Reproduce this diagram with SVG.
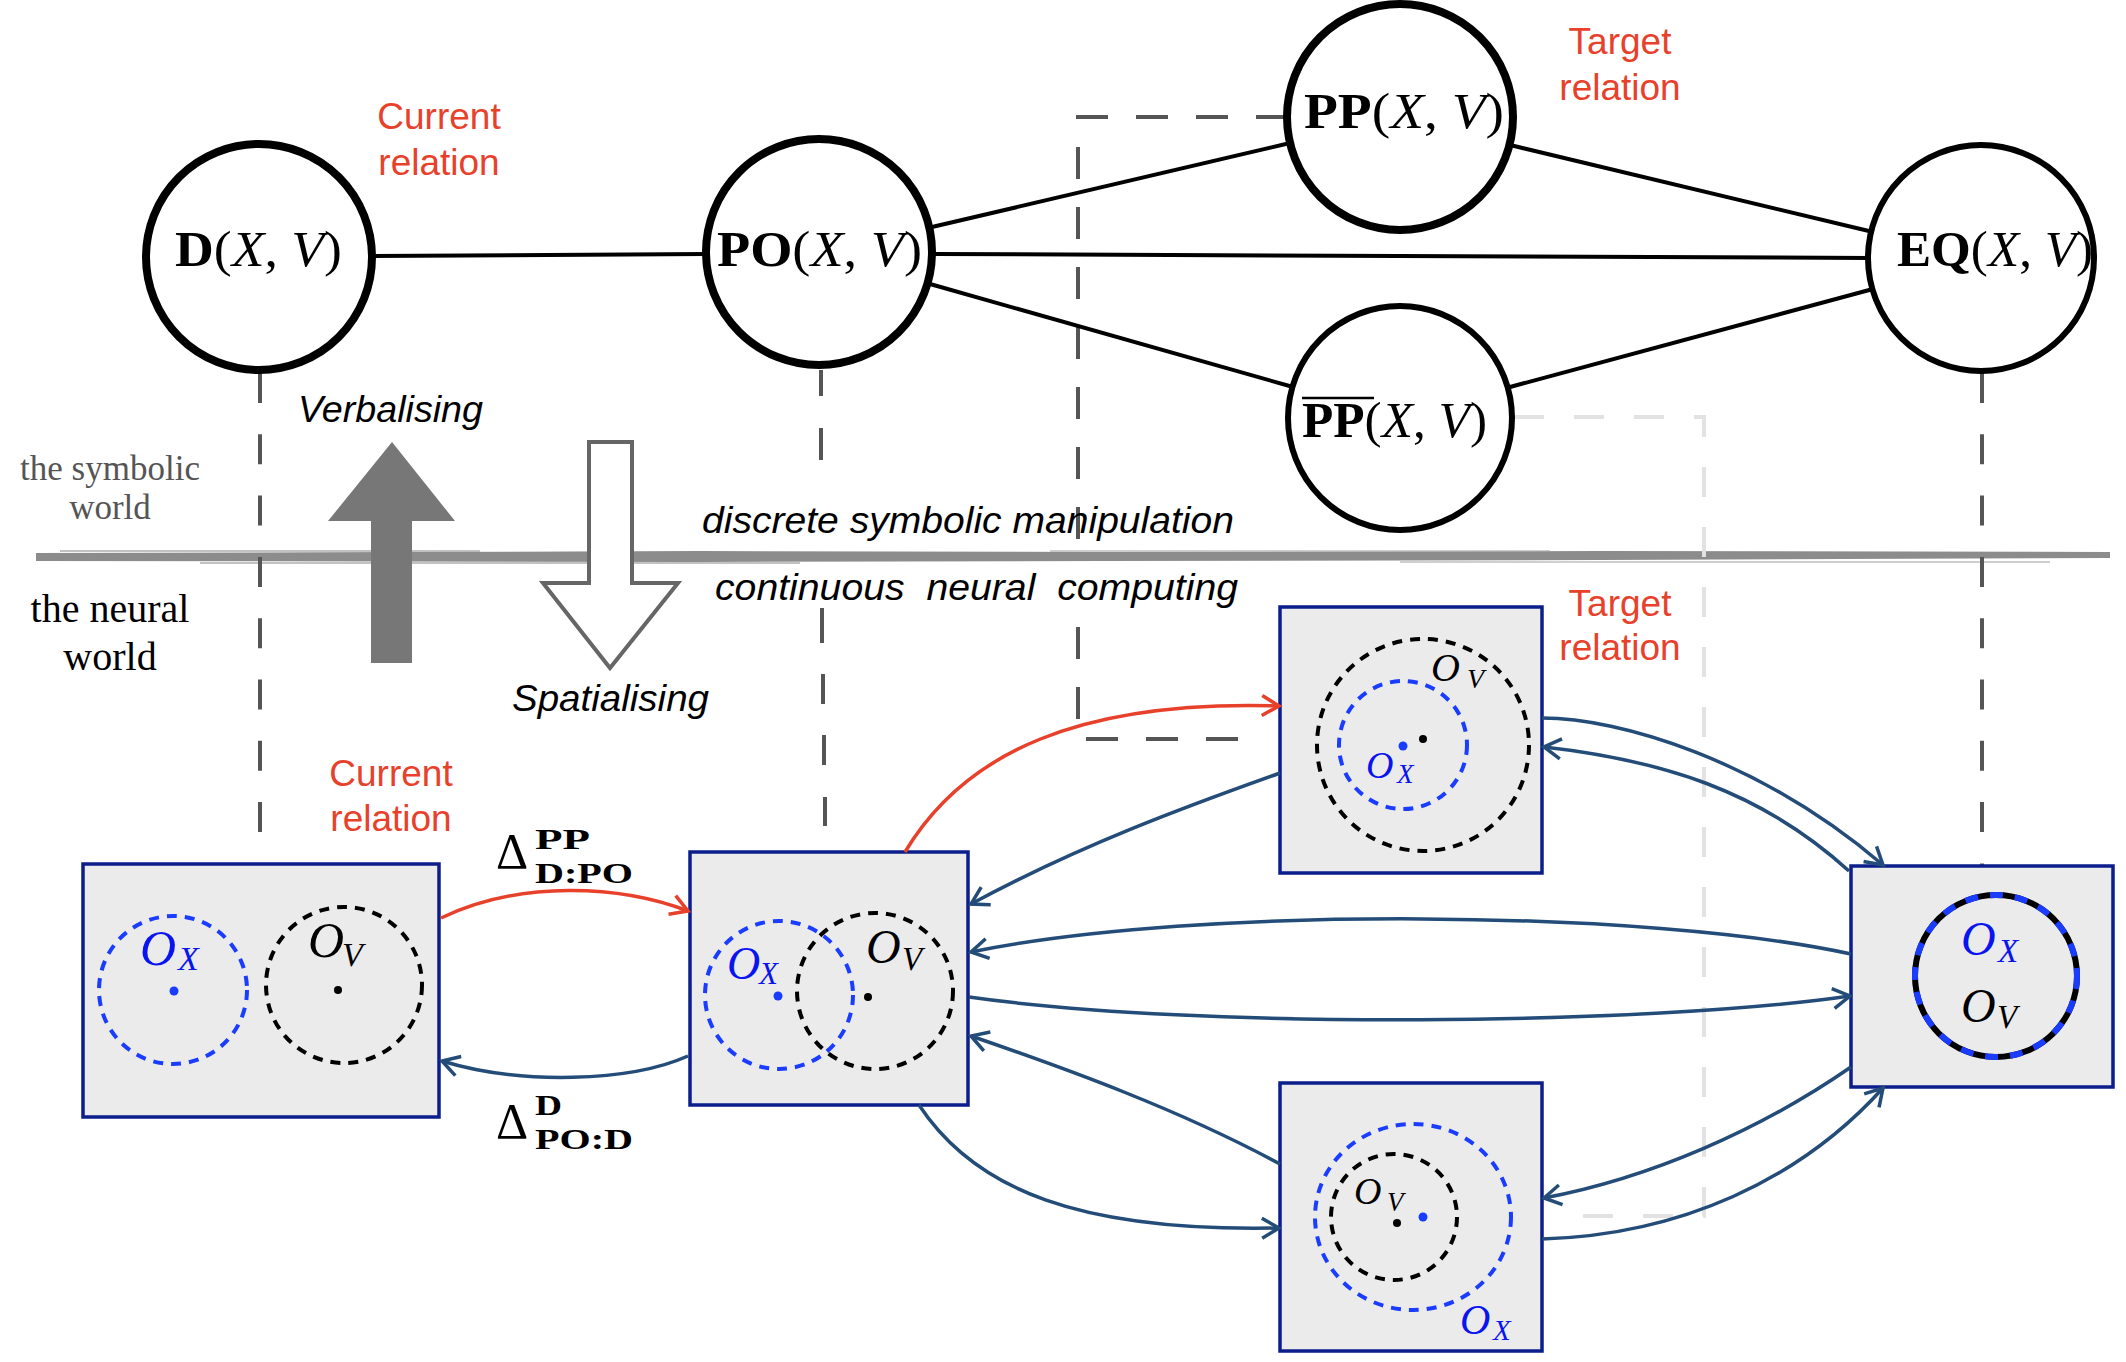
<svg xmlns="http://www.w3.org/2000/svg" width="2126" height="1362" viewBox="0 0 2126 1362">
<style>
.lbl{font-family:"Liberation Serif","Times New Roman",serif;font-size:50px;fill:#000}
.red{font-family:"Liberation Sans",Arial,sans-serif;font-size:37px;fill:#e8412b;text-anchor:middle}
.it{font-family:"Liberation Sans",Arial,sans-serif;font-style:italic;font-size:36px;fill:#000}
.world{font-family:"Liberation Serif","Times New Roman",serif;text-anchor:middle}
.mO{font-family:"Liberation Serif","Times New Roman",serif;font-style:italic}
.bl{fill:#0a14f0}
.blk{fill:#000}
.node{fill:#fff;stroke:#000}
.edge{stroke:#000;stroke-width:4;fill:none}
.guide{fill:none;stroke:#555;stroke-width:4;stroke-dasharray:30 31.3}
.box{fill:#ebebeb;stroke:#0b1e8c;stroke-width:3.5}
.cb{fill:none;stroke:#1a3cff;stroke-width:4;stroke-dasharray:10 8}
.ck{fill:none;stroke:#000;stroke-width:4;stroke-dasharray:10 8}
.conn{fill:none;stroke:#234c78;stroke-width:3.5}
.connr{fill:none;stroke:#e8412b;stroke-width:3.5}
.delta{font-family:"Liberation Serif","Times New Roman",serif;fill:#000}
</style>
<defs>
<marker id="ab" markerUnits="userSpaceOnUse" markerWidth="22" markerHeight="24" viewBox="0 0 22 24" refX="19" refY="12" orient="auto">
<path d="M2,2 L19,12 L2,22" fill="none" stroke="#234c78" stroke-width="3.5"/>
</marker>
<marker id="ar" markerUnits="userSpaceOnUse" markerWidth="22" markerHeight="24" viewBox="0 0 22 24" refX="19" refY="12" orient="auto">
<path d="M2,2 L19,12 L2,22" fill="none" stroke="#e8412b" stroke-width="3.5"/>
</marker>
</defs>
<rect width="2126" height="1362" fill="#fff"/>

<g id="band">
<path d="M36,553 L400,552 L700,551 L1100,552 L1600,551 L2110,552 L2110,558 L1600,560 L1100,561 L700,562 L36,561 Z" fill="#8c8c8c"/>
<rect x="60" y="550" width="420" height="2" fill="#9a9a9a" opacity="0.6"/>
<rect x="200" y="562" width="600" height="2" fill="#9a9a9a" opacity="0.6"/>
<rect x="1050" y="550" width="500" height="2" fill="#a0a0a0" opacity="0.5"/>
<rect x="1400" y="561" width="650" height="2" fill="#a0a0a0" opacity="0.5"/>
</g>

<g id="guides">
<path class="guide" d="M260,373 V835"/>
<path fill="none" stroke="#555" stroke-width="4" d="M821,370 V396 M821,428 V460 M822,604 V643 M823,674 V704 M824,735 V765 M825,797 V826"/>
<path class="guide" d="M1982,373 V866"/>
<path fill="none" stroke="#555" stroke-width="4" stroke-dasharray="32 28" d="M1288,117 H1078 V739 H1262"/>
<path fill="none" stroke="#e2e2e2" stroke-width="4" stroke-dasharray="30 30" d="M1514,417 H1704 V1216 H1555"/>
</g>

<g id="world-arrows">
<polygon id="verbal-arrow" points="392,442 455,521 412,521 412,663 371,663 371,521 328,521" fill="#777"/>
<polygon id="spatial-arrow" points="589,442 632,442 632,583 678,583 610,668 543,583 589,583" fill="#fff" stroke="#666" stroke-width="4"/>
</g>

<g id="texts">
<text class="red" x="439" y="129">Current</text>
<text class="red" x="439" y="175">relation</text>
<text class="red" x="1620" y="54">Target</text>
<text class="red" x="1620" y="100">relation</text>
<text class="red" x="1620" y="616">Target</text>
<text class="red" x="1620" y="660">relation</text>
<text class="red" x="391" y="786">Current</text>
<text class="red" x="391" y="831">relation</text>
<text class="it" x="298" y="422" font-size="38" textLength="185" lengthAdjust="spacingAndGlyphs">Verbalising</text>
<text class="it" x="512" y="711" font-size="38" textLength="197" lengthAdjust="spacingAndGlyphs">Spatialising</text>
<text class="it" x="702" y="533" font-size="35" textLength="532" lengthAdjust="spacingAndGlyphs">discrete symbolic manipulation</text>
<rect x="712" y="566" width="530" height="42" fill="#fff"/>
<text class="it" x="715" y="600" font-size="35" textLength="523" lengthAdjust="spacingAndGlyphs" xml:space="preserve">continuous  neural  computing</text>
<text class="world" x="110" y="480" font-size="35" fill="#555">the symbolic</text>
<text class="world" x="110" y="519" font-size="35" fill="#555">world</text>
<text class="world" x="110" y="622" font-size="40" fill="#000">the neural</text>
<text class="world" x="110" y="670" font-size="40" fill="#000">world</text>
</g>

<g id="symbolic-edges">
<line class="edge" x1="372" y1="256" x2="706" y2="254"/>
<line class="edge" x1="932" y1="227" x2="1290" y2="143"/>
<line class="edge" x1="934" y1="254" x2="1870" y2="258"/>
<line class="edge" x1="930" y1="284" x2="1293" y2="387"/>
<line class="edge" x1="1510" y1="145" x2="1873" y2="232"/>
<line class="edge" x1="1510" y1="387" x2="1873" y2="289"/>
</g>

<g id="node-D">
<circle class="node" cx="259" cy="257" r="113" stroke-width="8"/>
<text class="lbl" x="175" y="266" textLength="167" lengthAdjust="spacingAndGlyphs"><tspan font-weight="bold">D</tspan>(<tspan font-style="italic">X</tspan>, <tspan font-style="italic">V</tspan>)</text>
</g>
<g id="node-PO">
<circle class="node" cx="819" cy="252" r="113" stroke-width="8"/>
<text class="lbl" x="717" y="266" textLength="205" lengthAdjust="spacingAndGlyphs"><tspan font-weight="bold">PO</tspan>(<tspan font-style="italic">X</tspan>, <tspan font-style="italic">V</tspan>)</text>
</g>
<g id="node-PP">
<circle class="node" cx="1400" cy="117" r="113" stroke-width="8"/>
<text class="lbl" x="1304" y="128" textLength="200" lengthAdjust="spacingAndGlyphs"><tspan font-weight="bold">PP</tspan>(<tspan font-style="italic">X</tspan>, <tspan font-style="italic">V</tspan>)</text>
</g>
<g id="node-PPbar">
<circle class="node" cx="1400" cy="418" r="112" stroke-width="6"/>
<text class="lbl" x="1302" y="437" textLength="185" lengthAdjust="spacingAndGlyphs"><tspan font-weight="bold">PP</tspan>(<tspan font-style="italic">X</tspan>, <tspan font-style="italic">V</tspan>)</text>
<line x1="1302" y1="398" x2="1374" y2="398" stroke="#000" stroke-width="2.5"/>
</g>
<g id="node-EQ">
<circle cx="1981" cy="258" r="113" fill="#fff"/>
<text class="lbl" x="1897" y="266" textLength="196" lengthAdjust="spacingAndGlyphs"><tspan font-weight="bold">EQ</tspan>(<tspan font-style="italic">X</tspan>, <tspan font-style="italic">V</tspan>)</text>
<circle cx="1981" cy="258" r="113" fill="none" stroke="#000" stroke-width="6"/>
</g>

<g id="box-D">
<rect class="box" x="83" y="864" width="356" height="253"/>
<circle class="cb" cx="173" cy="990" r="74"/>
<circle class="ck" cx="344" cy="985" r="78"/>
<circle cx="174" cy="991" r="4.5" fill="#1a3cff"/>
<circle cx="338" cy="990" r="4" fill="#000"/>
<text class="mO bl" x="140" y="965" font-size="50">O</text>
<text class="mO bl" x="178" y="970" font-size="34">X</text>
<text class="mO blk" x="308" y="957" font-size="50">O</text>
<text class="mO blk" x="342" y="966" font-size="34">V</text>
</g>

<g id="box-PO">
<rect class="box" x="690" y="852" width="278" height="253"/>
<circle class="cb" cx="779" cy="995" r="74"/>
<circle class="ck" cx="875" cy="991" r="78"/>
<circle cx="778" cy="996" r="4.5" fill="#1a3cff"/>
<circle cx="868" cy="997" r="4" fill="#000"/>
<text class="mO bl" x="727" y="979" font-size="46">O</text>
<text class="mO bl" x="759" y="984" font-size="31">X</text>
<text class="mO blk" x="866" y="963" font-size="48">O</text>
<text class="mO blk" x="902" y="970" font-size="33">V</text>
</g>

<g id="box-PP">
<rect class="box" x="1280" y="607" width="262" height="266"/>
<circle class="ck" cx="1423" cy="745" r="106"/>
<circle class="cb" cx="1403" cy="745" r="64"/>
<circle cx="1403" cy="746" r="4.5" fill="#1a3cff"/>
<circle cx="1423" cy="739" r="4" fill="#000"/>
<text class="mO blk" x="1431" y="681" font-size="40">O</text>
<text class="mO blk" x="1467" y="688" font-size="28">V</text>
<text class="mO bl" x="1366" y="778" font-size="38">O</text>
<text class="mO bl" x="1397" y="783" font-size="27">X</text>
</g>

<g id="box-PPbar">
<rect class="box" x="1280" y="1083" width="262" height="268"/>
<ellipse class="cb" cx="1413" cy="1217" rx="98" ry="93"/>
<circle class="ck" cx="1394" cy="1217" r="63"/>
<circle cx="1397" cy="1223" r="4" fill="#000"/>
<circle cx="1423" cy="1217" r="4.5" fill="#1a3cff"/>
<text class="mO blk" x="1354" y="1204" font-size="38">O</text>
<text class="mO blk" x="1387" y="1211" font-size="27">V</text>
<text class="mO bl" x="1460" y="1334" font-size="42">O</text>
<text class="mO bl" x="1493" y="1340" font-size="29">X</text>
</g>

<g id="box-EQ">
<rect class="box" x="1851" y="866" width="262" height="221"/>
<circle cx="1996" cy="976" r="81" fill="none" stroke="#000" stroke-width="6"/>
<circle cx="1996" cy="976" r="81" fill="none" stroke="#1a3cff" stroke-width="6" stroke-dasharray="13 12"/>
<text class="mO bl" x="1961" y="955" font-size="48">O</text>
<text class="mO bl" x="1998" y="962" font-size="33">X</text>
<text class="mO blk" x="1961" y="1022" font-size="48">O</text>
<text class="mO blk" x="1997" y="1028" font-size="33">V</text>
</g>

<g id="connectors">
<path class="connr" d="M441,918 C520,880 620,885 688,911" marker-end="url(#ar)"/>
<path class="conn" d="M688,1056 C630,1082 520,1085 442,1061" marker-end="url(#ab)"/>
<path class="connr" d="M905,852 C965,752 1080,700 1279,706" marker-end="url(#ar)"/>
<path class="conn" d="M1280,773 C1190,805 1080,845 971,904" marker-end="url(#ab)"/>
<path class="conn" d="M1851,954 C1650,910 1200,905 971,952" marker-end="url(#ab)"/>
<path class="conn" d="M969,997 C1200,1030 1650,1025 1850,996" marker-end="url(#ab)"/>
<path class="conn" d="M1280,1164 C1180,1110 1070,1070 971,1036" marker-end="url(#ab)"/>
<path class="conn" d="M919,1105 C975,1190 1080,1232 1279,1228" marker-end="url(#ab)"/>
<path class="conn" d="M1542,718 C1620,718 1760,760 1883,865" marker-end="url(#ab)"/>
<path class="conn" d="M1849,871 C1760,790 1660,760 1544,747" marker-end="url(#ab)"/>
<path class="conn" d="M1851,1067 C1760,1130 1650,1178 1544,1198" marker-end="url(#ab)"/>
<path class="conn" d="M1542,1239 C1680,1235 1800,1180 1883,1088" marker-end="url(#ab)"/>
</g>

<g id="delta-labels">
<text class="delta" x="496" y="868" font-size="50">Δ</text>
<text class="delta" x="535" y="849" font-size="30" font-weight="bold" textLength="55" lengthAdjust="spacingAndGlyphs">PP</text>
<text class="delta" x="535" y="883" font-size="30" font-weight="bold" textLength="98" lengthAdjust="spacingAndGlyphs">D:PO</text>
<text class="delta" x="496" y="1138" font-size="50">Δ</text>
<text class="delta" x="535" y="1115" font-size="30" font-weight="bold" textLength="27" lengthAdjust="spacingAndGlyphs">D</text>
<text class="delta" x="535" y="1149" font-size="30" font-weight="bold" textLength="98" lengthAdjust="spacingAndGlyphs">PO:D</text>
</g>
</svg>
